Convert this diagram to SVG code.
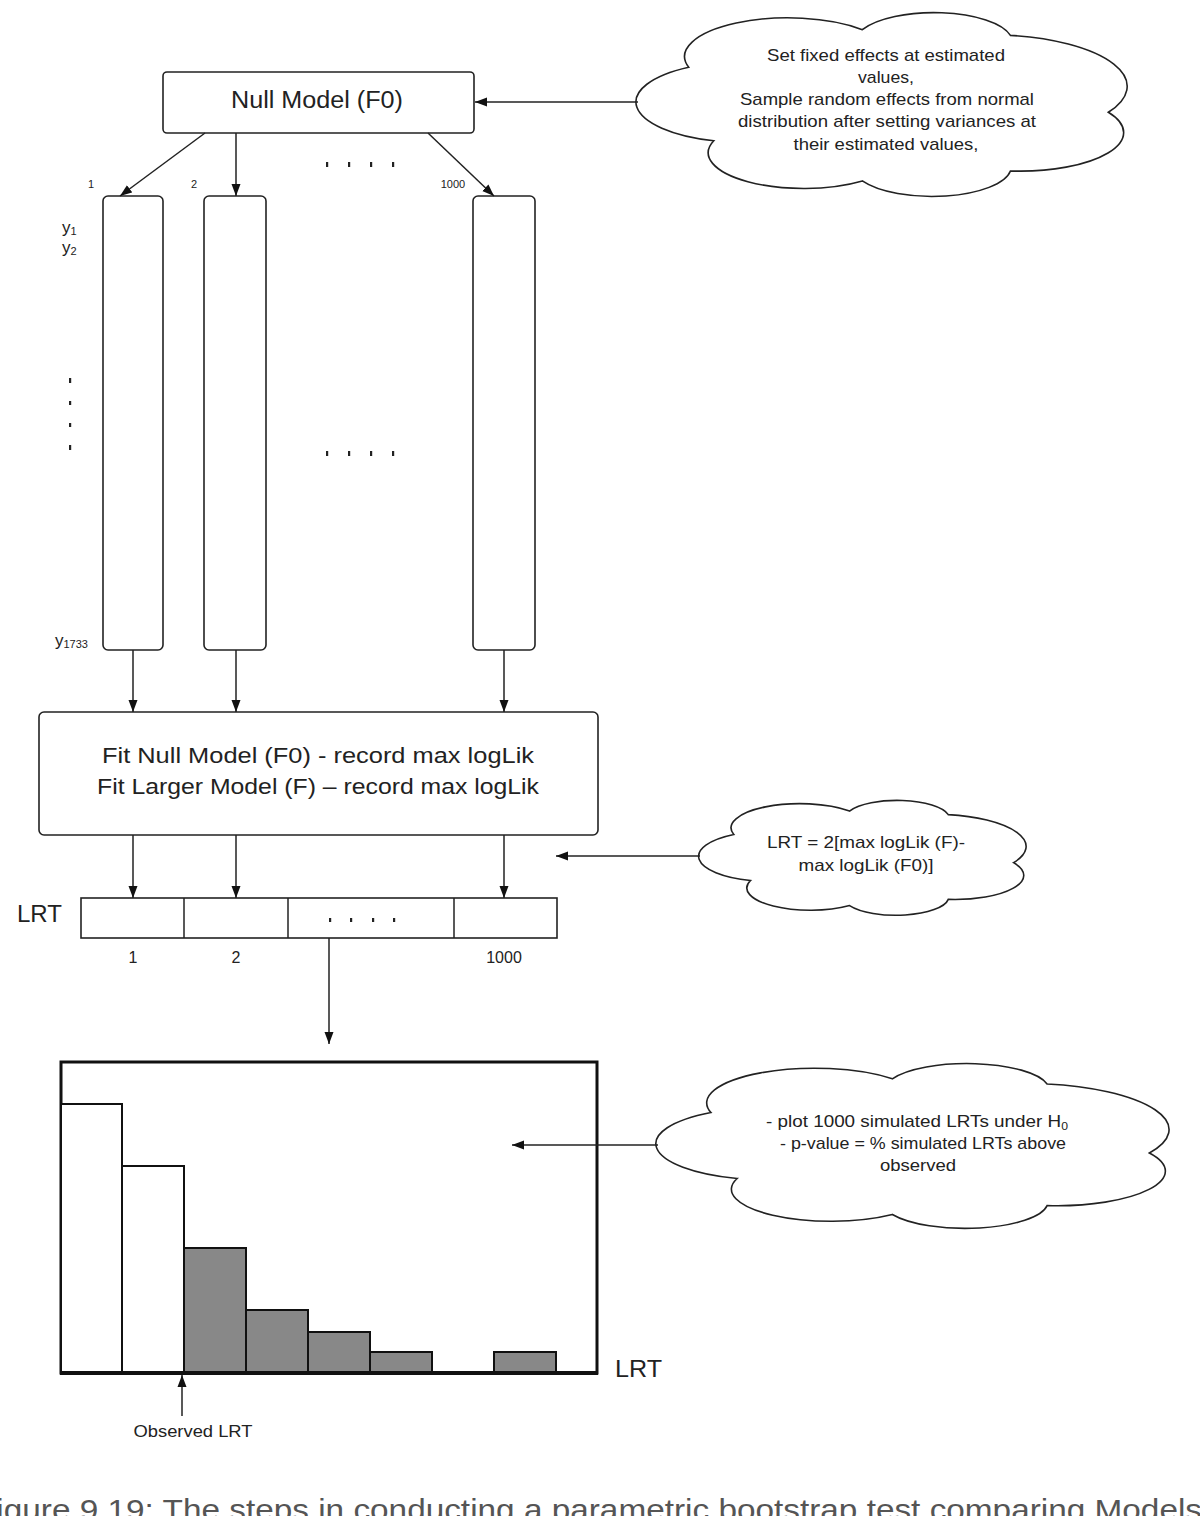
<svg xmlns="http://www.w3.org/2000/svg" width="1200" height="1516" viewBox="0 0 1200 1516">
<style>
.t{font-family:"Liberation Sans",Arial,sans-serif;fill:#222}
.box{fill:#fff;stroke:#222;stroke-width:1.6}
.ln{stroke:#222;stroke-width:1.5;fill:none}
.cl{fill:#fff;stroke:#222;stroke-width:1.6;vector-effect:non-scaling-stroke}
.dot{fill:#222}
.bar{stroke:#111;stroke-width:2}
</style>
<defs>
<marker id="arr" markerWidth="12" markerHeight="10" refX="12" refY="5" orient="auto" markerUnits="userSpaceOnUse">
<path d="M0,0.5 L12,5 L0,9.5 z" fill="#111"/>
</marker>
</defs>
<rect width="1200" height="1516" fill="#fff"/>

<g id="cloud1">
<path class="cl" transform="translate(638,12) scale(4.92,1.84)" d="M10.3 30 A21 21 0 0 1 45.6 9.6 A16 16 0 0 1 75.7 12.7 A28 28 0 0 1 95.6 54.5 A21 21 0 0 1 75.7 86.4 A16.1 16.1 0 0 1 45.6 91.8 A19.4 19.4 0 0 1 15.4 70 A22 22 0 0 1 10.3 30 Z"/>
<text class="t" font-size="17" text-anchor="middle"><tspan x="886" y="61" textLength="238" lengthAdjust="spacingAndGlyphs">Set fixed effects at estimated</tspan><tspan x="886" y="83" textLength="56" lengthAdjust="spacingAndGlyphs">values,</tspan><tspan x="887" y="105" textLength="294" lengthAdjust="spacingAndGlyphs">Sample random effects from normal</tspan><tspan x="887" y="127" textLength="298" lengthAdjust="spacingAndGlyphs">distribution after setting variances at</tspan><tspan x="886" y="150" textLength="185" lengthAdjust="spacingAndGlyphs">their estimated values,</tspan></text>
</g>

<g id="null-model">
<rect class="box" x="163" y="72" width="311" height="61" rx="4"/>
<text class="t" x="317" y="108" font-size="23" text-anchor="middle" textLength="172" lengthAdjust="spacingAndGlyphs">Null Model (F0)</text>
</g>

<g id="sample-labels">
<text class="t" x="91" y="188" font-size="11" text-anchor="middle">1</text>
<text class="t" x="194" y="188" font-size="11" text-anchor="middle">2</text>
<text class="t" x="453" y="188" font-size="11" text-anchor="middle">1000</text>
<text class="t" x="62" y="233" font-size="17">y<tspan font-size="11" dy="2">1</tspan></text>
<text class="t" x="62" y="253" font-size="17">y<tspan font-size="11" dy="2">2</tspan></text>
<text class="t" x="55" y="646" font-size="17">y<tspan font-size="11" dy="2">1733</tspan></text>
<rect class="dot" x="69" y="378" width="2.2" height="5"/>
<rect class="dot" x="69" y="401" width="2.2" height="4"/>
<rect class="dot" x="69" y="423" width="2.2" height="4"/>
<rect class="dot" x="69" y="445" width="2.2" height="5"/>
<rect class="dot" x="326" y="162" width="2.2" height="5"/>
<rect class="dot" x="348" y="162" width="2.2" height="5"/>
<rect class="dot" x="370" y="162" width="2.2" height="5"/>
<rect class="dot" x="392" y="162" width="2.2" height="5"/>
<rect class="dot" x="326" y="451" width="2.2" height="5"/>
<rect class="dot" x="348" y="451" width="2.2" height="5"/>
<rect class="dot" x="370" y="451" width="2.2" height="5"/>
<rect class="dot" x="392" y="451" width="2.2" height="5"/>
</g>

<g id="sample-1"><rect class="box" x="103" y="196" width="60" height="454" rx="5"/></g>
<g id="sample-2"><rect class="box" x="204" y="196" width="62" height="454" rx="5"/></g>
<g id="sample-1000"><rect class="box" x="473" y="196" width="62" height="454" rx="5"/></g>

<g id="fit-models">
<rect class="box" x="39" y="712" width="559" height="123" rx="5"/>
<text class="t" x="318" y="763" font-size="22" text-anchor="middle" textLength="432" lengthAdjust="spacingAndGlyphs">Fit Null Model (F0)  - record max logLik</text>
<text class="t" x="318" y="794" font-size="22" text-anchor="middle" textLength="442" lengthAdjust="spacingAndGlyphs">Fit Larger Model (F) – record max logLik</text>
</g>

<g id="cloud2">
<path class="cl" transform="translate(700,800) scale(3.28,1.15)" d="M10.3 30 A21 21 0 0 1 45.6 9.6 A16 16 0 0 1 75.7 12.7 A28 28 0 0 1 95.6 54.5 A21 21 0 0 1 75.7 86.4 A16.1 16.1 0 0 1 45.6 91.8 A19.4 19.4 0 0 1 15.4 70 A22 22 0 0 1 10.3 30 Z"/>
<text class="t" font-size="17" text-anchor="middle"><tspan x="866" y="848" textLength="198" lengthAdjust="spacingAndGlyphs">LRT = 2[max logLik (F)-</tspan><tspan x="866" y="871" textLength="135" lengthAdjust="spacingAndGlyphs">max logLik (F0)]</tspan></text>
</g>

<g id="lrt-row">
<text class="t" x="17" y="922" font-size="23" textLength="45" lengthAdjust="spacingAndGlyphs">LRT</text>
<rect class="box" x="81" y="898" width="476" height="40"/>
<line class="ln" x1="184" y1="898" x2="184" y2="938"/>
<line class="ln" x1="288" y1="898" x2="288" y2="938"/>
<line class="ln" x1="454" y1="898" x2="454" y2="938"/>
<rect class="dot" x="329" y="918" width="2.2" height="4"/>
<rect class="dot" x="350" y="918" width="2.2" height="4"/>
<rect class="dot" x="372" y="918" width="2.2" height="4"/>
<rect class="dot" x="393" y="918" width="2.2" height="4"/>
<text class="t" x="133" y="963" font-size="16" text-anchor="middle">1</text>
<text class="t" x="236" y="963" font-size="16" text-anchor="middle">2</text>
<text class="t" x="504" y="963" font-size="16" text-anchor="middle">1000</text>
</g>

<g id="histogram">
<rect x="61" y="1062" width="536" height="311" fill="#fff" stroke="#111" stroke-width="3"/>
<rect class="bar" x="61" y="1104" width="61" height="269" fill="#fff"/>
<rect class="bar" x="122" y="1166" width="62" height="207" fill="#fff"/>
<rect class="bar" x="184" y="1248" width="62" height="125" fill="#888"/>
<rect class="bar" x="246" y="1310" width="62" height="63" fill="#888"/>
<rect class="bar" x="308" y="1332" width="62" height="41" fill="#888"/>
<rect class="bar" x="370" y="1352" width="62" height="21" fill="#888"/>
<rect class="bar" x="494" y="1352" width="62" height="21" fill="#888"/>
<line x1="60" y1="1373" x2="598" y2="1373" stroke="#111" stroke-width="4"/>
<text class="t" x="615" y="1377" font-size="24" textLength="47" lengthAdjust="spacingAndGlyphs">LRT</text>
<text class="t" x="193" y="1437" font-size="17" text-anchor="middle" textLength="119" lengthAdjust="spacingAndGlyphs">Observed LRT</text>
</g>

<g id="cloud3">
<path class="cl" transform="translate(658,1063) scale(5.14,1.65)" d="M10.3 30 A21 21 0 0 1 45.6 9.6 A16 16 0 0 1 75.7 12.7 A28 28 0 0 1 95.6 54.5 A21 21 0 0 1 75.7 86.4 A16.1 16.1 0 0 1 45.6 91.8 A19.4 19.4 0 0 1 15.4 70 A22 22 0 0 1 10.3 30 Z"/>
<text class="t" font-size="17"><tspan x="766" y="1127" textLength="302" lengthAdjust="spacingAndGlyphs">- plot 1000 simulated LRTs under H<tspan font-size="11" dy="3">0</tspan></tspan></text>
<text class="t" font-size="17" text-anchor="middle"><tspan x="923" y="1149" textLength="286" lengthAdjust="spacingAndGlyphs">- p-value = % simulated LRTs above</tspan><tspan x="918" y="1171" textLength="76" lengthAdjust="spacingAndGlyphs">observed</tspan></text>
</g>

<g id="connectors">
<line class="ln" x1="638" y1="102" x2="475" y2="102" marker-end="url(#arr)"/>
<line class="ln" x1="205" y1="133" x2="120" y2="196" marker-end="url(#arr)"/>
<line class="ln" x1="236" y1="133" x2="236" y2="196" marker-end="url(#arr)"/>
<line class="ln" x1="428" y1="133" x2="494" y2="196" marker-end="url(#arr)"/>
<line class="ln" x1="133" y1="650" x2="133" y2="712" marker-end="url(#arr)"/>
<line class="ln" x1="236" y1="650" x2="236" y2="712" marker-end="url(#arr)"/>
<line class="ln" x1="504" y1="650" x2="504" y2="712" marker-end="url(#arr)"/>
<line class="ln" x1="133" y1="835" x2="133" y2="898" marker-end="url(#arr)"/>
<line class="ln" x1="236" y1="835" x2="236" y2="898" marker-end="url(#arr)"/>
<line class="ln" x1="504" y1="835" x2="504" y2="898" marker-end="url(#arr)"/>
<line class="ln" x1="700" y1="856" x2="556" y2="856" marker-end="url(#arr)"/>
<line class="ln" x1="329" y1="938" x2="329" y2="1044" marker-end="url(#arr)"/>
<line class="ln" x1="658" y1="1145" x2="512" y2="1145" marker-end="url(#arr)"/>
<line class="ln" x1="182" y1="1416" x2="182" y2="1375" stroke-width="1.2" marker-end="url(#arr)"/>
</g>

<text x="-24" y="1520" font-family="'Liberation Sans',Arial,sans-serif" font-size="30" fill="#555" textLength="1226" lengthAdjust="spacingAndGlyphs">Figure 9.19: The steps in conducting a parametric bootstrap test comparing Models</text>
</svg>
